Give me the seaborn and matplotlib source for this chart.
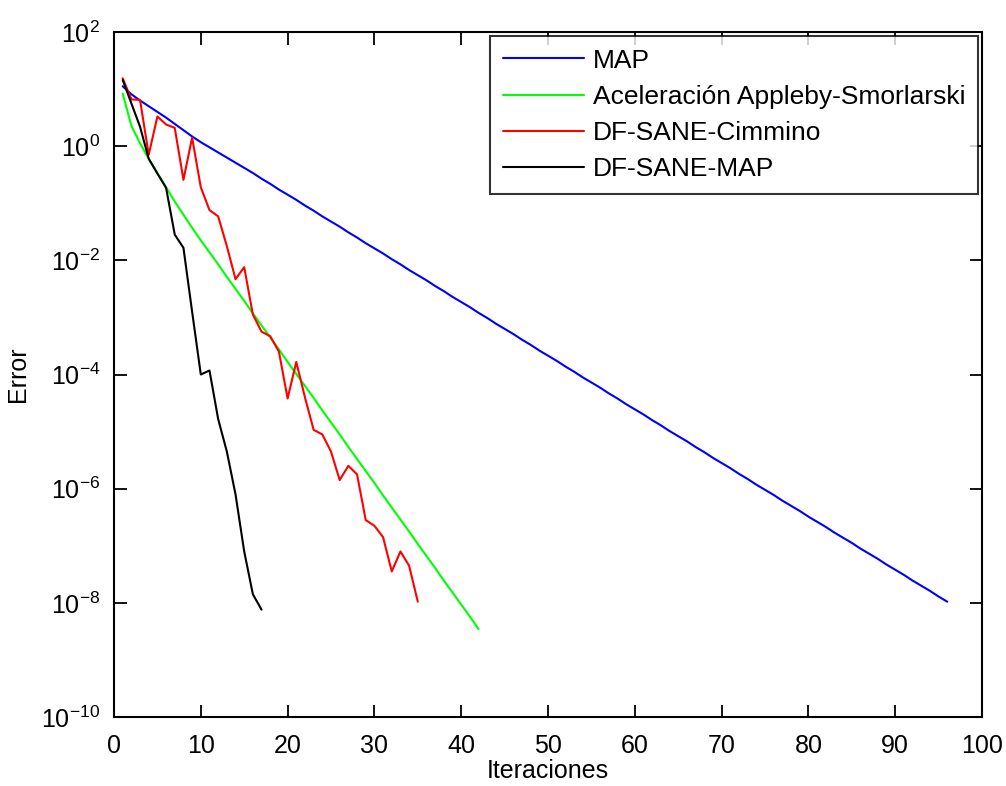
import numpy as np
import pandas as pd
import matplotlib
matplotlib.use("Agg")
import matplotlib.pyplot as plt
import seaborn as sns
from matplotlib.ticker import FixedLocator, NullLocator, LogFormatterSciNotation

# ---- data (log10 of the error) ----
map_log10 = [1.05, 0.91, 0.80, 0.70, 0.60, 0.50, 0.39, 0.28, 0.17, 0.07,
             -0.02, -0.11, -0.20, -0.29, -0.38, -0.47, -0.57, -0.66, -0.76, -0.85,
             -0.94, -1.04, -1.13, -1.23, -1.32, -1.41, -1.51, -1.60, -1.70, -1.79,
             -1.88, -1.98, -2.07, -2.17, -2.26, -2.35, -2.45, -2.54, -2.64, -2.73,
             -2.82, -2.92, -3.01, -3.11, -3.20, -3.29, -3.39, -3.48, -3.58, -3.67,
             -3.76, -3.86, -3.95, -4.05, -4.14, -4.23, -4.33, -4.42, -4.52, -4.61,
             -4.70, -4.80, -4.89, -4.99, -5.08, -5.17, -5.27, -5.36, -5.46, -5.55,
             -5.64, -5.74, -5.83, -5.93, -6.02, -6.11, -6.21, -6.30, -6.39, -6.49,
             -6.58, -6.67, -6.77, -6.86, -6.95, -7.05, -7.14, -7.23, -7.33, -7.42,
             -7.51, -7.61, -7.70, -7.79, -7.89, -7.98]

apple_log10 = [0.92, 0.36, 0.05, -0.22, -0.47, -0.72, -0.97, -1.20, -1.43, -1.65,
               -1.86, -2.07, -2.29, -2.50, -2.71, -2.93, -3.14, -3.35, -3.56, -3.78,
               -3.99, -4.20, -4.41, -4.63, -4.84, -5.05, -5.27, -5.48, -5.69, -5.90,
               -6.12, -6.33, -6.54, -6.75, -6.97, -7.18, -7.39, -7.61, -7.82, -8.03,
               -8.24, -8.46]

cimmino_log10 = [1.19, 0.82, 0.81, -0.15, 0.52, 0.38, 0.32, -0.59, 0.15, -0.72,
                 -1.12, -1.23, -1.75, -2.33, -2.12, -2.95, -3.25, -3.33, -3.60, -4.42,
                 -3.78, -4.40, -4.97, -5.05, -5.35, -5.85, -5.60, -5.75, -6.55, -6.65,
                 -6.85, -7.45, -7.10, -7.35, -7.98]

dfsane_map_log10 = [1.16, 0.75, 0.34, -0.22, -0.48, -0.73, -1.55, -1.78, -2.90, -4.00,
                    -3.93, -4.78, -5.35, -6.10, -7.10, -7.85, -8.12]

series_names = ["MAP", "Aceleración Appleby-Smorlarski", "DF-SANE-Cimmino", "DF-SANE-MAP"]
series_colors = ["#0000ff", "#00ff00", "#ff0000", "#000000"]
x_ticks = [0, 10, 20, 30, 40, 50, 60, 70, 80, 90, 100]
y_tick_exponents = [-10, -8, -6, -4, -2, 0, 2]

# ---- long-form table ----
frames = []
for name, vals in zip(series_names, [map_log10, apple_log10, cimmino_log10, dfsane_map_log10]):
    v = np.asarray(vals, dtype=float)
    frames.append(pd.DataFrame({"Iteraciones": np.arange(1, len(v) + 1),
                                "Error": 10.0 ** v,
                                "Método": name}))
df = pd.concat(frames, ignore_index=True)

# ---- style ----
sns.set_theme(style="white")
plt.rcParams["font.family"] = ["Liberation Sans", "DejaVu Sans"]
plt.rcParams["mathtext.fontset"] = "custom"
plt.rcParams["mathtext.rm"] = "Liberation Sans"
plt.rcParams["mathtext.it"] = "Liberation Sans:italic"
plt.rcParams["mathtext.bf"] = "Liberation Sans:bold"
plt.rcParams["text.color"] = "black"
plt.rcParams["axes.labelcolor"] = "black"
plt.rcParams["xtick.color"] = "black"
plt.rcParams["ytick.color"] = "black"

fig = plt.figure(figsize=(10.06, 7.86), dpi=100)
fig.patch.set_facecolor("white")
ax = fig.add_axes([114 / 1006, 1 - 717 / 786, (982 - 114) / 1006, (717 - 32) / 786])

sns.lineplot(data=df, x="Iteraciones", y="Error", hue="Método",
             hue_order=series_names, palette=dict(zip(series_names, series_colors)),
             estimator=None, sort=False, linewidth=1.5, ax=ax)

ax.set_yscale("log")
ax.set_xlim(0, 100)
ax.set_ylim(1e-10, 1e2)
ax.xaxis.set_major_locator(FixedLocator(x_ticks))
ax.set_xticklabels([str(t) for t in x_ticks])
ax.yaxis.set_major_locator(FixedLocator([10.0 ** e for e in y_tick_exponents]))
ax.yaxis.set_major_formatter(LogFormatterSciNotation())
ax.yaxis.set_minor_locator(NullLocator())
ax.xaxis.set_minor_locator(NullLocator())

ax.tick_params(axis="both", which="major", direction="in", length=9, width=1.3,
               top=True, right=True, bottom=True, left=True,
               labelsize=18, colors="black")
ax.tick_params(axis="x", pad=12)
ax.tick_params(axis="y", pad=10)
for sp in ax.spines.values():
    sp.set_visible(True)
    sp.set_color("black")
    sp.set_linewidth(1.5)

ax.set_xlabel("Iteraciones", fontsize=18, labelpad=1, color="black")
ax.set_ylabel("Error", fontsize=18, labelpad=8, color="black")

handles, labels = ax.get_legend_handles_labels()
leg = ax.legend(handles, labels, loc="upper right", bbox_to_anchor=(1.0, 1.0),
                borderaxespad=0.15, fontsize=19, frameon=True, fancybox=False,
                edgecolor="black", handlelength=3.1, handletextpad=0.32,
                labelspacing=0.46, borderpad=0.48)
leg.get_frame().set_linewidth(1.5)
for t in leg.get_texts():
    t.set_color("black")
for line in leg.get_lines():
    line.set_linewidth(1.5)

fig.savefig("out.png", dpi=100, facecolor="white")
